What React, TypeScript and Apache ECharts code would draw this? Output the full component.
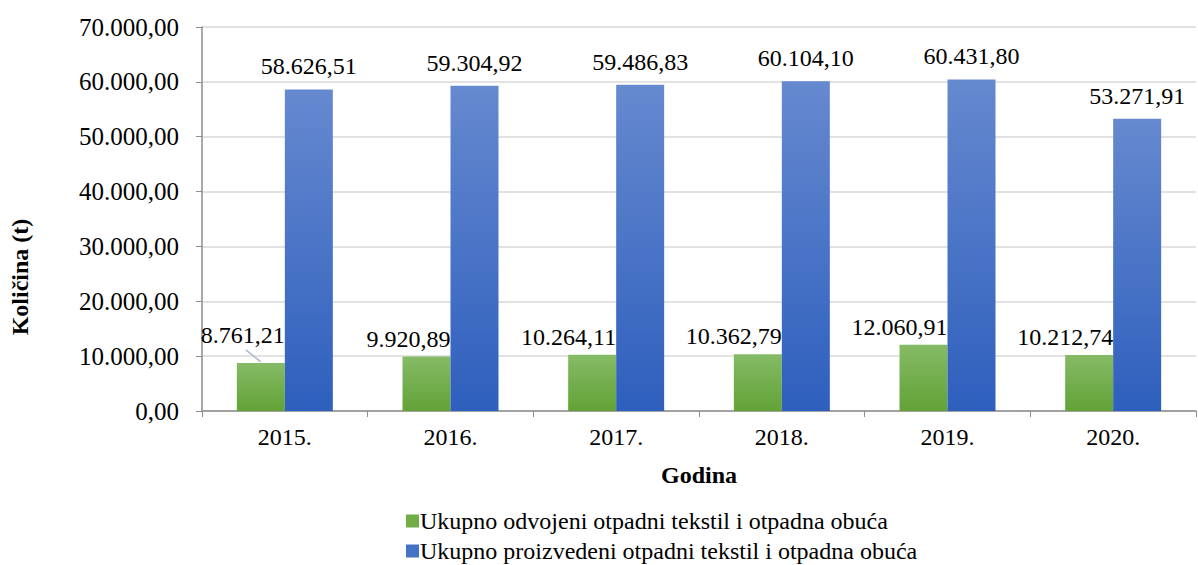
import React, { useEffect, useRef } from "react";
import * as echarts from "echarts";

const years = ["2015.", "2016.", "2017.", "2018.", "2019.", "2020."];
const separated = [8761.21, 9920.89, 10264.11, 10362.79, 12060.91, 10212.74];
const produced = [58626.51, 59304.92, 59486.83, 60104.1, 60431.8, 53271.91];
const seriesNames = [
  "Ukupno odvojeni otpadni tekstil i otpadna obuća",
  "Ukupno proizvedeni otpadni tekstil i otpadna obuća",
];
const yAxisTitle = "Količina (t)";
const xAxisTitle = "Godina";

const FONT = "Liberation Serif";
const FS = 24;

function fmt(v: number): string {
  const parts = v.toFixed(2).split(".");
  const int = parts[0].replace(/\B(?=(\d{3})+(?!\d))/g, ".");
  return int + "," + parts[1];
}

export default function App() {
  const ref = useRef<HTMLDivElement>(null);
  useEffect(() => {
    document.body.style.margin = "0";
    const chart = echarts.init(ref.current!, undefined, { renderer: "svg" });
    const green = new echarts.graphic.LinearGradient(0, 0, 0, 1, [
      { offset: 0, color: "#85bb66" },
      { offset: 1, color: "#62a236" },
    ]);
    const blue = new echarts.graphic.LinearGradient(0, 0, 0, 1, [
      { offset: 0, color: "#6689cf" },
      { offset: 1, color: "#2e5fbd" },
    ]);
    chart.setOption({
      animation: false,
      textStyle: { fontFamily: FONT },
      grid: { left: 202, right: 2, top: 27, bottom: 154, containLabel: false },
      legend: {
        orient: "vertical",
        left: 406,
        top: 509,
        height: 56,
        padding: 0,
        itemWidth: 13,
        itemHeight: 13,
        itemGap: 6,
        icon: "rect",
        textStyle: { fontFamily: FONT, fontSize: FS, color: "#000", padding: [0, 0, 0, -4] },
        data: [
          { name: seriesNames[0], itemStyle: { color: "#70ad47" } },
          { name: seriesNames[1], itemStyle: { color: "#4472c4" } },
        ],
      },
      xAxis: {
        type: "category",
        data: years,
        name: xAxisTitle,
        nameLocation: "middle",
        nameGap: 52,
        nameTextStyle: { fontFamily: FONT, fontSize: FS, fontWeight: "bold", color: "#000" },
        axisLine: { lineStyle: { color: "#8c8c8c", width: 1.5 } },
        axisTick: { show: true, length: 6, lineStyle: { color: "#8c8c8c" } },
        axisLabel: { fontFamily: FONT, fontSize: FS, color: "#000", margin: 14 },
      },
      yAxis: {
        type: "value",
        min: 0,
        max: 70000,
        interval: 10000,
        axisLine: { show: true, lineStyle: { color: "#8c8c8c", width: 1.5 } },
        axisTick: { show: true, length: 6, inside: false, lineStyle: { color: "#8c8c8c" } },
        splitLine: { lineStyle: { color: "#d9d9d9", width: 1.5 } },
        axisLabel: {
          fontFamily: FONT,
          fontSize: 25,
          color: "#000",
          margin: 23,
          formatter: (v: number) => fmt(v),
        },
      },
      series: [
        {
          name: seriesNames[0],
          type: "bar",
          data: separated.map((v, i) =>
            i === 0 ? { value: v, label: { offset: [24, -10] } } : v
          ),
          barWidth: 48,
          barGap: "0%",
          itemStyle: { color: green },
          label: {
            show: true,
            position: "top",
            align: "right",
            distance: 6,
            offset: [24, 0],
            fontFamily: FONT,
            fontSize: FS,
            color: "#000",
            formatter: (p: any) => fmt(p.value),
          },
        },
        {
          name: seriesNames[1],
          type: "bar",
          data: produced,
          barWidth: 48,
          barGap: "0%",
          itemStyle: { color: blue },
          label: {
            show: true,
            position: "top",
            distance: 11,
            fontFamily: FONT,
            fontSize: FS,
            color: "#000",
            formatter: (p: any) => fmt(p.value),
          },
        },
      ],
    });
    const p = chart.convertToPixel({ gridIndex: 0 }, [0, separated[0]]) as number[];
    const barCx = p[0] - 24;
    chart.setOption({
      graphic: [
        {
          type: "text",
          x: 20,
          y: 277,
          rotation: Math.PI / 2,
          style: {
            text: yAxisTitle,
            fontFamily: FONT,
            fontSize: FS,
            fontWeight: "bold",
            fill: "#000",
            align: "center",
            verticalAlign: "middle",
          },
        },
        {
          type: "line",
          shape: { x1: barCx - 15, y1: p[1] - 13, x2: barCx, y2: p[1] - 1 },
          style: { stroke: "#a9bbd4", lineWidth: 1.5 },
          silent: true,
        },
      ],
    });
    return () => chart.dispose();
  }, []);
  return <div ref={ref} style={{ width: 1198, height: 565 }} />;
}
